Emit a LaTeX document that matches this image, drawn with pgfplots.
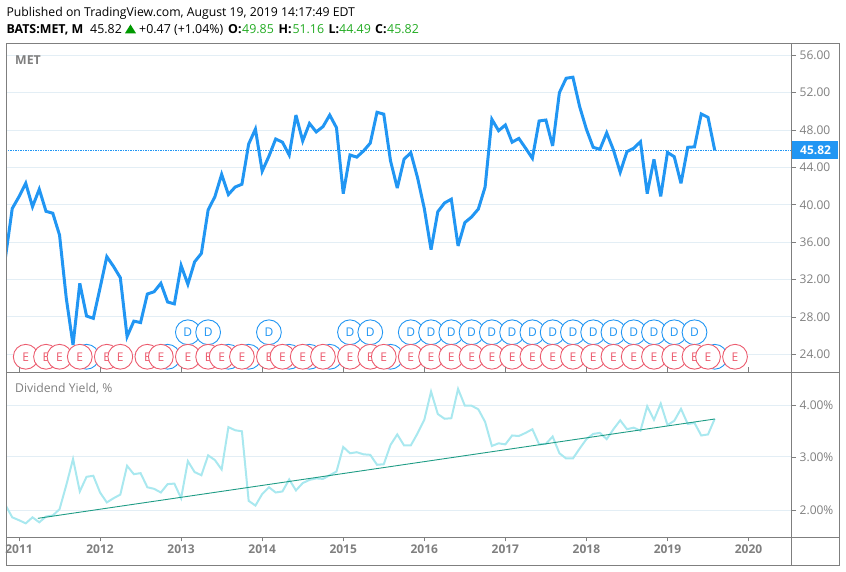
\documentclass[border=0pt]{standalone}
\usepackage{fontspec}
\setmainfont{Open Sans}
\usepackage{pgfplots}
\usepackage{pgfplotstable}
\pgfplotsset{compat=1.18}
\usetikzlibrary{plotmarks}

\definecolor{tvblue}{HTML}{2196F3}
\definecolor{tvred}{HTML}{EC5B6E}
\definecolor{tvgrid}{HTML}{E3EEF5}
\definecolor{tvframe}{HTML}{7F7F7F}
\definecolor{tvtext}{HTML}{7F7F7F}
\definecolor{tvyield}{HTML}{A9E8EF}
\definecolor{tvtrend}{HTML}{1F9C85}
\definecolor{tvgreen}{HTML}{22AB22}

% event bubbles, drawn one after the other so that later ones cover earlier ones
\pgfdeclareplotmark{evE}{\pgfpathcircle{\pgfpointorigin}{12.4pt}\pgfusepathqfillstroke
  \pgftext{\fontsize{12}{12}\selectfont\textcolor{tvred}{E}}}
\pgfdeclareplotmark{evD}{\pgfpathcircle{\pgfpointorigin}{12.4pt}\pgfusepathqfillstroke
  \pgftext{\fontsize{12}{12}\selectfont\textcolor{tvblue}{D}}}

% x is months since January 2011
\pgfplotstableread{
m v
-2 34.4
-1 39.6
0 40.87
1 42.3
2 39.8
3 41.66
4 39.3
5 39.1
6 36.77
7 30.0
8 25.0
9 31.6
10 28.1
11 27.85
12 31.1
13 34.45
14 33.4
15 32.2
16 25.9
17 27.55
18 27.4
19 30.45
20 30.7
21 31.6
22 29.6
23 29.4
24 33.5
25 31.5
26 33.9
27 34.8
28 39.45
29 40.87
30 43.26
31 41.1
32 41.9
33 42.2
34 46.5
35 48.1
36 43.6
37 45.2
38 47.04
39 46.7
40 45.33
41 49.6
42 46.83
43 48.7
44 47.8
45 48.36
46 49.6
47 48.25
48 41.2
49 45.33
50 45.1
51 45.76
52 46.6
53 49.9
54 49.7
55 44.7
56 41.8
57 44.87
58 45.58
59 42.9
60 39.6
61 35.2
62 39.26
63 40.2
64 40.6
65 35.6
66 38.1
67 38.7
68 39.55
69 41.9
70 49.15
71 47.93
72 48.54
73 46.7
74 47.1
75 46.05
76 44.98
77 48.97
78 49.07
79 46.3
80 52.0
81 53.54
82 53.65
83 50.5
84 48.08
85 46.15
86 45.94
87 47.7
88 45.87
89 43.48
90 45.68
91 46.05
92 46.75
93 41.2
94 44.87
95 40.9
96 45.6
97 45.15
98 42.3
99 46.15
100 46.2
101 49.72
102 49.36
103 45.82
}\pricetable

\pgfplotstableread{
m v
-2 2.1
-1 1.865
0 1.81
1 1.75
2 1.865
3 1.77
4 1.88
5 1.9
6 2.02
7 2.48
8 2.98
9 2.36
10 2.64
11 2.66
12 2.34
13 2.15
14 2.23
15 2.30
16 2.85
17 2.69
18 2.71
19 2.44
20 2.41
21 2.34
22 2.5
23 2.51
24 2.23
25 2.94
26 2.73
27 2.67
28 3.05
29 2.96
30 2.78
31 3.59
32 3.53
33 3.51
34 2.18
35 2.09
36 2.31
37 2.44
38 2.34
39 2.36
40 2.59
41 2.38
42 2.52
43 2.58
44 2.61
45 2.6
46 2.67
47 2.74
48 3.21
49 3.09
50 3.11
51 3.07
52 3.06
53 2.87
54 2.88
55 3.25
56 3.45
57 3.24
58 3.24
59 3.47
60 3.73
61 4.27
62 3.84
63 3.75
64 3.76
65 4.32
66 4.0
67 4.0
68 3.93
69 3.69
70 3.23
71 3.28
72 3.26
73 3.43
74 3.42
75 3.48
76 3.55
77 3.26
78 3.27
79 3.41
80 3.09
81 2.99
82 2.99
83 3.18
84 3.36
85 3.46
86 3.48
87 3.36
88 3.55
89 3.72
90 3.55
91 3.58
92 3.52
93 3.99
94 3.73
95 4.04
96 3.63
97 3.71
98 3.94
99 3.65
100 3.67
101 3.43
102 3.45
103 3.75
}\yieldtable

\pgfplotsset{
  pane/.style={
    scale only axis,
    anchor=south west,
    width=785pt,
    xmin=-1.85, xmax=114.36,
    grid=major,
    xmajorgrids=false,
    grid style={tvgrid, line width=0.9pt},
    axis line style={tvframe, line width=0.9pt},
    ytick pos=right,
    tick align=outside,
    major tick length=4.5pt,
    ytick style={tvframe, line width=0.8pt},
    xtick style={tvframe, line width=0.8pt},
    yticklabel style={anchor=west, inner sep=0pt, xshift=3.5pt, text=tvtext,
      font=\fontsize{12}{12}\selectfont},
    /pgf/number format/assume math mode=true,
  },
}

\begin{document}
\begin{tikzpicture}[x=1pt, y=1pt]
\useasboundingbox (0,0) rectangle (846,572);

% price pane
\begin{axis}[pane,
    at={(6.5pt,200pt)},
    height=328.5pt,
    ymin=22.11, ymax=57.26,
    xtick=\empty,
    ytick={24,28,32,36,40,44,48,52,56},
    yticklabel={\pgfmathprintnumber[fixed, fixed zerofill, precision=2]{\tick}},
  ]
  \addplot[tvblue, line width=0.8pt, dash pattern=on 1.5pt off 1pt] coordinates {(-2,45.82) (115,45.82)};
  \addplot[tvblue, line width=3pt, line join=miter, miter limit=4] table[x=m, y=v] {\pricetable};
  % dividends hidden behind the earnings row
  \addplot[only marks, mark=evD, mark options={draw=tvblue, fill=white, line width=0.9pt}]
    coordinates {(10,23.74) (22,23.74) (31,23.74) (34,23.74) (40,23.74) (43,23.74) (46,23.74) (55,23.74) (103,23.74)};
  \addplot[only marks, mark=evD, mark options={draw=tvblue, fill=white, line width=0.9pt}]
    coordinates {(25,26.36) (28,26.36) (37,26.36) (49,26.36) (52,26.36) (58,26.36) (61,26.36) (64,26.36) (67,26.36) (70,26.36) (73,26.36) (76,26.36) (79,26.36) (82,26.36) (85,26.36) (88,26.36) (91,26.36) (94,26.36) (97,26.36) (100,26.36)};
  \addplot[only marks, mark=evE, mark options={draw=tvred, fill=white, line width=0.9pt}]
    coordinates {(1,23.74) (4,23.74) (6,23.74) (9,23.74) (13,23.74) (15,23.74) (19,23.74) (21,23.74) (25,23.74) (28,23.74) (30,23.74) (33,23.74) (37,23.74) (39,23.74) (42,23.74) (45,23.74) (49,23.74) (52,23.74) (54,23.74) (58,23.74) (61,23.74) (64,23.74) (67,23.74) (70,23.74) (73,23.74) (76,23.74) (79,23.74) (82,23.74) (85,23.74) (88,23.74) (91,23.74) (94,23.74) (97,23.74) (100,23.74) (102,23.74) (106,23.74)};
\end{axis}

% yield pane, with the year labels under it
\begin{axis}[pane,
    at={(6.5pt,35pt)},
    height=165pt,
    ymin=1.489, ymax=4.644,
    xtick={0,12,24,36,48,60,72,84,96,108},
    xticklabels={2011,2012,2013,2014,2015,2016,2017,2018,2019,2020},
    xticklabel style={text=tvtext, inner sep=0pt, yshift=-3.5pt,
      font=\fontsize{12}{12}\selectfont\bfseries},
    ytick={2,3.02,4},
    yticklabels={2.00\%,3.00\%,4.00\%},
  ]
  \addplot[tvyield, line width=2pt] table[x=m, y=v] {\yieldtable};
  \addplot[tvtrend, line width=0.9pt] coordinates {(2.8,1.846) (103,3.745)};
\end{axis}

% outer frame and price scale
\draw[tvframe, line width=0.9pt] (6.5,7) rectangle (839,528.5);
\draw[tvframe, line width=0.9pt] (791.5,7) -- (791.5,528.5);
\draw[tvframe, line width=0.9pt] (791.5,200) -- (839,200);
\draw[tvframe, line width=0.9pt] (791.5,35) -- (839,35);

% last price tag
\fill[tvblue] (791.5,413) rectangle (838,431);
\node[anchor=base west, inner sep=0pt, text=white] at (800,417.5) {\fontsize{12}{12}\selectfont\bfseries 45.82};

% pane titles
\node[anchor=base west, inner sep=0pt, text=tvtext] at (15,507) {\fontsize{12.3}{12}\selectfont\bfseries MET};
\node[anchor=base west, inner sep=0pt, text=tvtext] at (15,179) {\fontsize{12.2}{12}\selectfont Dividend Yield, \%};

% header
\tikzset{hd/.style={anchor=base west, inner sep=0pt, text=black, font=\fontsize{12.4}{12}\selectfont}}
\node[hd, font=\fontsize{12.25}{12}\selectfont] at (6.3,555.3) {Published on TradingView.com, August 19, 2019 14:17:49 EDT};
\node[hd, font=\fontsize{12.4}{12}\selectfont\bfseries] at (6.3,538.7) {BATS:MET, M};
\node[hd] at (90,538.7) {45.82};
\fill[green!60!black] (125,538.7) -- (136,538.7) -- (130.5,547.5) -- cycle;
\node[hd] at (139,538.7) {+0.47 (+1.04\%)};
\node[hd, font=\fontsize{12.4}{12}\selectfont\bfseries] at (228,538.7) {O:};
\node[hd, text=tvgreen] at (242,538.7) {49.85};
\node[hd, font=\fontsize{12.4}{12}\selectfont\bfseries] at (278.5,538.7) {H:};
\node[hd, text=tvgreen] at (292.3,538.7) {51.16};
\node[hd, font=\fontsize{12.4}{12}\selectfont\bfseries] at (328.3,538.7) {L:};
\node[hd, text=tvgreen] at (339,538.7) {44.49};
\node[hd, font=\fontsize{12.4}{12}\selectfont\bfseries] at (375,538.7) {C:};
\node[hd, text=tvgreen] at (387,538.7) {45.82};
\end{tikzpicture}
\end{document}
